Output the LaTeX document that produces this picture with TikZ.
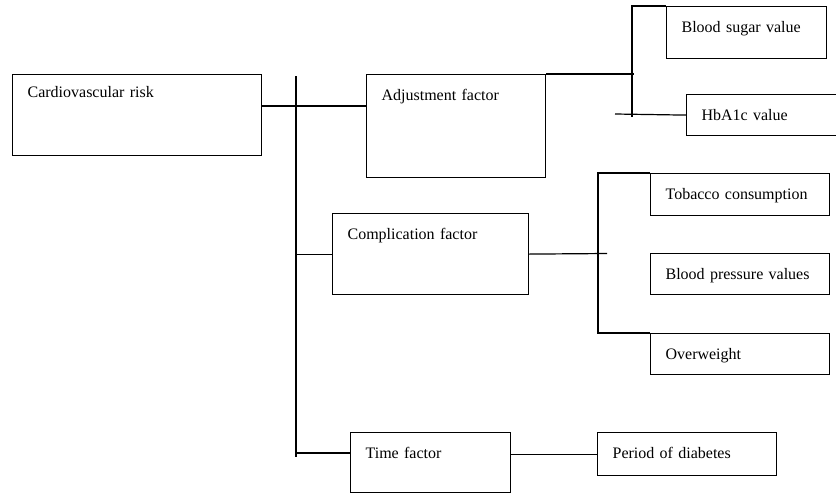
\documentclass[tikz,border=0pt]{standalone}
\usepackage{fontspec}
\setmainfont{Liberation Serif}
\usepackage{tikz}
\usetikzlibrary{calc}
\tikzset{
  boite/.style={rectangle, draw, line width=1.2pt, anchor=north west, align=left,
                inner xsep=15pt, inner ysep=0pt, text height=26pt,
                font=\fontsize{16}{19}\selectfont},
  lien/.style={line width=1.2pt},
}
\begin{document}
\begin{tikzpicture}[x=1pt, y=-1pt]
    \useasboundingbox (0,0) rectangle (836,493);
    \node[boite, text width=219pt, text height=23pt, text depth=58pt] (risk) at (12,74) {Cardiovascular risk};
    \node[boite, text width=149pt, text depth=77pt] (adj) at (366,74) {Adjustment factor};
    \node[boite, text width=166pt, text depth=55pt] (comp) at (332,213) {Complication factor};
    \node[boite, text width=130pt, text depth=34pt] (temps) at (350,432) {Time factor};
    \node[boite, text width=130pt, text depth=26pt] (sug) at (666,6) {Blood sugar value};
    \node[boite, text width=124pt, text depth=15pt] (hba) at (686,94) {HbA1c value};
    \node[boite, text width=149pt, text depth=16pt] (tab) at (650,173) {Tobacco consumption};
    \node[boite, text width=149pt, text depth=15pt] (bp) at (650,253) {Blood pressure values};
    \node[boite, text width=149pt, text depth=15pt] (ovw) at (650,333) {Overweight};
    \node[boite, text width=149pt, text depth=17pt] (per) at (597,432) {Period of diabetes};
    \coordinate (haut) at (296,76);
    \coordinate (bas) at (296,457);
    \coordinate (n1) at (296,106);
    \coordinate (n3) at (296,453);
    \coordinate (b1) at (632,74);
    \coordinate (b1bas) at (632,117);
    \coordinate (hbadeb) at (615,114);
    \coordinate (b2) at (598,253);
    \coordinate (b2fin) at (607,253.5);
    \draw[lien] (haut) -- (bas);
    \draw[lien] (risk.east |- n1) -- (adj.west |- n1);
    \draw[lien] (comp.west -| haut) -- (comp.west);
    \draw[lien] (n3) -- (temps.west |- n3);
    \draw[lien] (temps.east |- per.west) -- (per.west);
    \draw[lien] (adj.north east) -- ([xshift=2pt]b1);
    \draw[lien] (sug.north west) -- (sug.north west -| b1) -- (b1bas);
    \draw[lien] (hbadeb) -- (hba.west);
    \draw[lien] (comp.east) -- (b2fin);
    \draw[lien] (tab.north west) -- (tab.north west -| b2) -- (ovw.north west -| b2) -- (ovw.north west);
\end{tikzpicture}
\end{document}
